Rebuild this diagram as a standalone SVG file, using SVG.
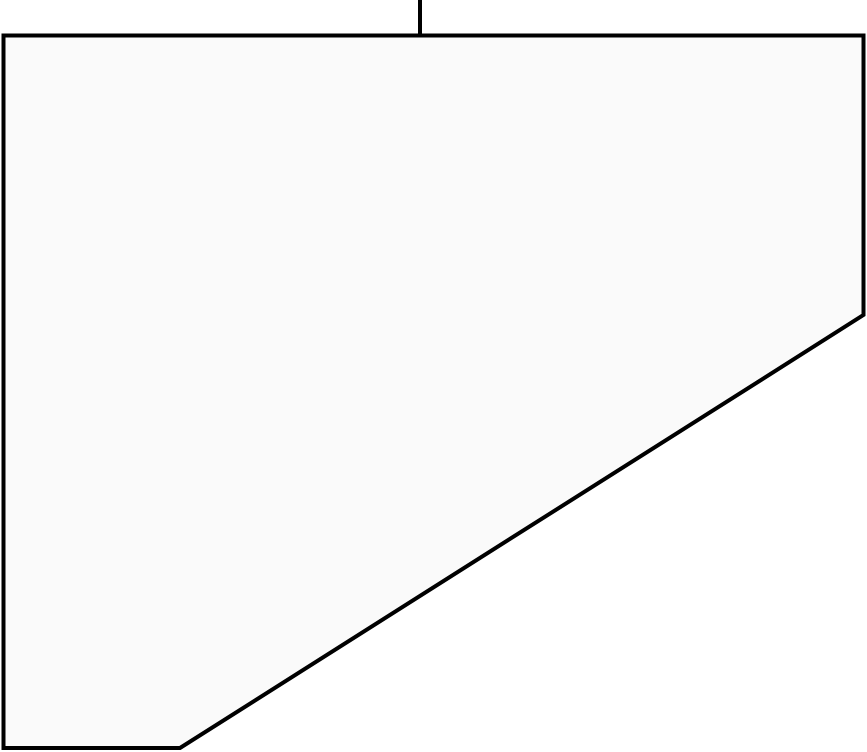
<svg xmlns="http://www.w3.org/2000/svg" width="867" height="752" viewBox="0 0 867 752">
<style>
.shape{fill:#fafafa;stroke:#000;stroke-width:4;stroke-linejoin:miter}
.conn{stroke:#000;stroke-width:4;fill:none}
</style>
<rect width="867" height="752" fill="#fff"/>
<g id="connectors"><line class="conn" x1="420" y1="0" x2="420" y2="35.5"/></g>
<g id="node1"><polygon class="shape" points="3.5,35.5 863.5,35.5 863.5,315 180,748 3.5,748"/></g>
</svg>
